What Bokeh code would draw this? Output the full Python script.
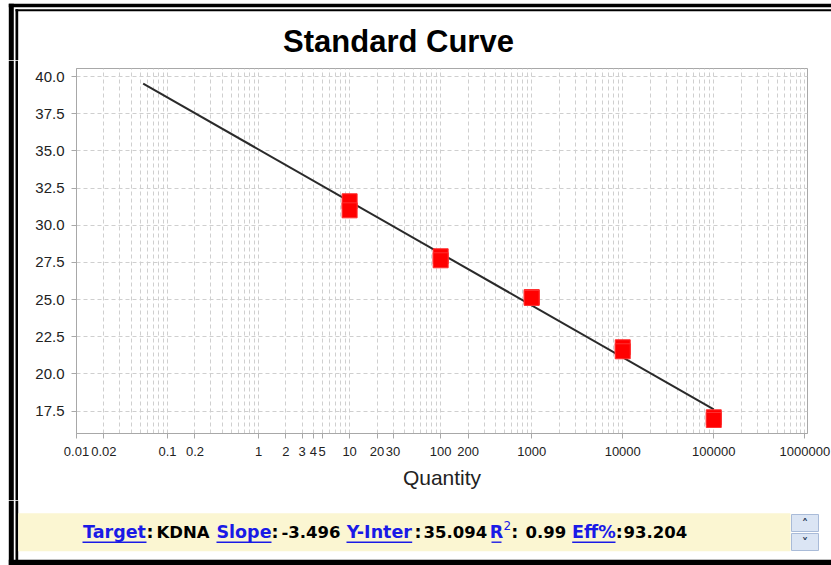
import math
from bokeh.plotting import figure
from bokeh.models import (Range1d, FixedTicker, CustomJSTickFormatter, PrintfTickFormatter)
from bokeh.layouts import column, row
from bokeh.core.properties import value
from bokeh.embed import file_html
from bokeh.resources import INLINE

# ---------------- data ----------------
quantity = [10, 10, 100, 100, 1000, 1000, 10000, 10000, 100000, 100000]
ct_values = [31.61, 31.00, 27.91, 27.64, 25.17, 25.11, 21.79, 21.52, 17.08, 16.90]

target_name = "KDNA"
slope = -3.496
y_intercept = 35.094
r_squared = 0.99
efficiency = 93.204

fit_x = [0.054, 100000]
fit_y = [y_intercept + slope * math.log10(q) for q in fit_x]

x_tick_values = [0.01, 0.02, 0.1, 0.2, 1, 2, 3, 4, 5, 10, 20, 30, 100, 200,
                 1000, 10000, 100000, 1000000]
x_tick_labels = ["0.01", "0.02", "0.1", "0.2", "1", "2", "3", "4", "5", "10", "20", "30",
                 "100", "200", "1000", "10000", "100000", "1000000"]
y_tick_values = [17.5, 20.0, 22.5, 25.0, 27.5, 30.0, 32.5, 35.0, 37.5, 40.0]
x_grid_values = [m * 10.0 ** k for k in range(-2, 6) for m in range(1, 10)] + [1e6]

chart_title = "Standard Curve"
x_axis_title = "Quantity"

# ---------------- page geometry ----------------
PAGE_W, PAGE_H = 831, 565
TOP_H = 60          # decoration strip above chart
LEFT_W = 18         # decoration strip left of chart
BOT_Y = 500         # page y where the bottom strip starts
MID_H = BOT_Y - TOP_H


def no_align(f):
    try:
        f.frame_align = False
    except Exception:
        pass


def deco_figure(x0, x1, y0, y1):
    f = figure(width=int(x1 - x0), height=int(y1 - y0),
               x_range=Range1d(x0, x1), y_range=Range1d(y1, y0),
               x_axis_location=None, y_axis_location=None,
               output_backend="svg", toolbar_location=None,
               min_border_left=0, min_border_right=0, min_border_top=0, min_border_bottom=0)
    f.xgrid.visible = False
    f.ygrid.visible = False
    f.outline_line_color = None
    f.background_fill_color = "white"
    f.border_fill_color = "white"
    no_align(f)
    return f


def rects(f, boxes, color, line_color=None):
    f.quad(left=[b[0] for b in boxes], top=[b[1] for b in boxes],
           right=[b[2] for b in boxes], bottom=[b[3] for b in boxes],
           fill_color=color, line_color=line_color)


def mid(baseline, size):
    # vertical centre of the text box for a wanted alphabetic baseline
    return baseline - 0.35 * size


BLACK = "#000000"

# ---------------- top strip ----------------
top = deco_figure(0, PAGE_W, 0, TOP_H)
rects(top, [(8.3, 3.3, PAGE_W, 6.7),        # outer thick top
            (15, 8.7, PAGE_W, 10.7),        # inner thin top
            (8.3, 3.3, 13.3, TOP_H),        # outer thick left
            (15, 8.7, 17.7, TOP_H)], BLACK)
top.text(x=[398], y=[mid(52, 31)], text=[chart_title], text_align="center",
         text_baseline="middle", text_font=value("Liberation Sans"),
         text_font_size=value("31px"), text_font_style="bold", text_color="#000000")

# ---------------- left strip ----------------
left = deco_figure(0, LEFT_W, TOP_H, BOT_Y)
rects(left, [(8.3, TOP_H, 13.3, BOT_Y), (15, TOP_H, 17.7, BOT_Y)], BLACK)

# ---------------- chart ----------------
CH_W = PAGE_W - LEFT_W
p = figure(width=CH_W, height=MID_H, x_axis_type="log",
           x_range=Range1d(0.01, 1.07e6), y_range=Range1d(15.99, 40.54),
           output_backend="svg", toolbar_location=None,
           min_border_left=76 - LEFT_W, min_border_right=PAGE_W - 807,
           min_border_top=68 - TOP_H, min_border_bottom=BOT_Y - 433)
no_align(p)
p.background_fill_color = "white"
p.border_fill_color = "white"
p.outline_line_color = "#a8a8a8"
p.outline_line_width = 1

p.xaxis.ticker = FixedTicker(ticks=x_tick_values)
p.xaxis.formatter = CustomJSTickFormatter(
    args=dict(vals=x_tick_values, labs=x_tick_labels),
    code="""
for (let i = 0; i < vals.length; i++) {
  if (Math.abs(Math.log10(vals[i]) - Math.log10(tick)) < 1e-6) return labs[i];
}
return '';
""")
p.xaxis.major_label_text_font = "Liberation Sans"
p.xaxis.major_label_text_font_size = "13px"
p.xaxis.major_label_text_color = "#222222"
p.xaxis.major_label_standoff = 8
p.xaxis.axis_label = x_axis_title
p.xaxis.axis_label_text_font = "Liberation Sans"
p.xaxis.axis_label_text_font_size = "21px"
p.xaxis.axis_label_text_font_style = "normal"
p.xaxis.axis_label_text_color = "#222222"
p.xaxis.axis_label_standoff = 7

p.yaxis.ticker = FixedTicker(ticks=y_tick_values)
p.yaxis.formatter = PrintfTickFormatter(format="%.1f")
p.yaxis.major_label_text_font = "Liberation Sans"
p.yaxis.major_label_text_font_size = "15px"
p.yaxis.major_label_text_color = "#222222"
p.yaxis.major_label_standoff = 7

for ax in (p.xaxis, p.yaxis):
    ax.axis_line_color = "#a8a8a8"
    ax.major_tick_line_color = "#a8a8a8"
    ax.major_tick_in = 0
    ax.major_tick_out = 5
    ax.minor_tick_line_color = None

p.xgrid.ticker = FixedTicker(ticks=x_grid_values)
p.xgrid.grid_line_color = "#cfcfcf"
p.xgrid.grid_line_dash = "4 3"
p.ygrid.grid_line_color = "#cfcfcf"
p.ygrid.grid_line_dash = "4 3"

p.line(fit_x, fit_y, line_color="#2a2a2a", line_width=2)
p.scatter(quantity, ct_values, marker="square", size=15,
          fill_color="#ff0000", line_color="#ff3030", line_width=1)

# ---------------- bottom strip ----------------
bot = deco_figure(0, PAGE_W, BOT_Y, PAGE_H)
rects(bot, [(8.3, BOT_Y, 13.3, PAGE_H), (15, BOT_Y, 17.7, PAGE_H),
            (8.3, 559.3, PAGE_W, PAGE_H)], BLACK)
rects(bot, [(17.7, 512.7, 790, 550.7)], "#fbf6d2")

LINK = "#1a1ae6"
TXT = "#000000"
BASE = 537.7
FS = 17.5
VFS = 16.5
FONT = value("DejaVu Sans")

# link words, centred over their underline
link_text = ["Target", "Slope", "Y-Inter", "R", "Eff%"]
link_start = [82, 216, 346, 491, 571.7]
link_end = [146, 271, 411.7, 501, 615]
bot.text(x=[(s + e) / 2 for s, e in zip(link_start, link_end)],
         y=[mid(BASE, FS)] * len(link_text), text=link_text,
         text_color=LINK, text_baseline="middle", text_align="center",
         text_font=FONT, text_font_size=value(f"{FS}px"), text_font_style="bold")
rects(bot, [(s, 541, e, 542.4) for s, e in zip(link_start, link_end)], LINK)
bot.text(x=[503], y=[mid(529, 12)], text=["2"], text_color=LINK, text_baseline="middle",
         text_font=FONT, text_font_size=value("12px"))

# colons and values
colon_x = [146, 271, 414, 510.7, 615.3]
value_x = [156, 281, 423, 525, 623]
value_text = [target_name, f"{slope:.3f}", f"{y_intercept:.3f}", f"{r_squared:.2f}",
              f"{efficiency:.3f}"]
bot.text(x=colon_x, y=[mid(BASE, FS)] * 5, text=[":"] * 5, text_color=TXT,
         text_baseline="middle", text_align="left",
         text_font=FONT, text_font_size=value(f"{FS}px"), text_font_style="bold")
bot.text(x=value_x, y=[mid(BASE, VFS)] * 5, text=value_text, text_color=TXT,
         text_baseline="middle", text_align="left",
         text_font=FONT, text_font_size=value(f"{VFS}px"), text_font_style="bold")

# scroll buttons
rects(bot, [(791, 514, 818, 531), (791, 533, 818, 550)], "#dbe5f4", line_color="#a9bbd8")
bot.text(x=[804.5, 804.5], y=[522.5, 541.5], text=["\u02c4", "\u02c5"], text_color="#2b3a5a",
         text_align="center", text_baseline="middle", text_font=value("DejaVu Sans"),
         text_font_size=value("13px"), text_font_style="bold")

layout = column(top, row(left, p, spacing=0), bot, spacing=0)
open("out.html", "w").write(file_html(layout, INLINE))
